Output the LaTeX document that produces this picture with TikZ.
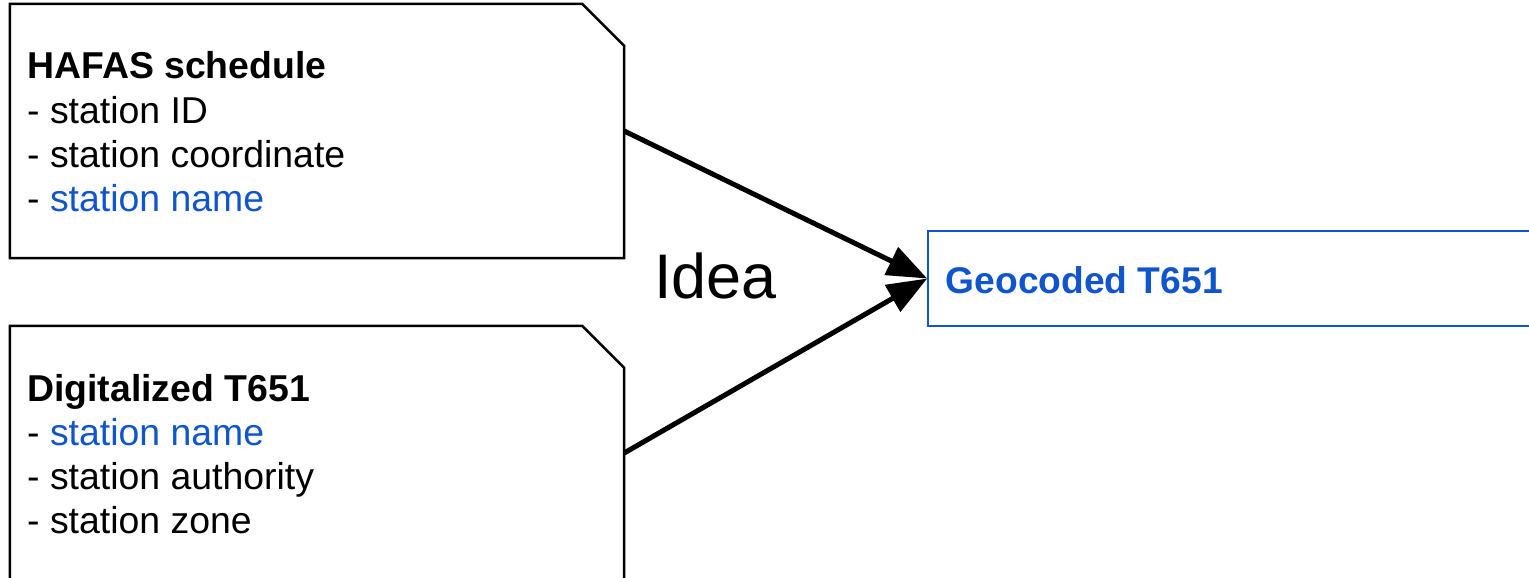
\documentclass[tikz,border=0pt]{standalone}
\usepackage{fontspec}
\setmainfont{Liberation Sans}
\usetikzlibrary{arrows.meta}
\definecolor{gblue}{HTML}{1155CC}
\begin{document}
\begin{tikzpicture}[x=1pt,y=-1pt,
  card/.style={draw=none,rectangle,minimum width=614pt,minimum height=254pt,inner sep=0pt},
  cardline/.style={draw=black,line width=2.5pt,line join=miter},
  txt/.style={anchor=base west,inner sep=0pt,font=\fontsize{37.4pt}{44pt}\selectfont},
  conn/.style={line width=5pt,-{Triangle[length=40pt,width=30pt]}},
]
\useasboundingbox (0,0) rectangle (1529,578);
\clip (0,0) rectangle (1529,578);
% boxes
\node[card] (hafas) at (317,131) {};
\node[card] (digi) at (317,453) {};
\node[draw=gblue,line width=1.6pt,rectangle,minimum width=602pt,minimum height=95pt,inner sep=0pt] (geo) at (1229,278.5) {};
\foreach \b in {hafas,digi}{
  \draw[cardline] (\b.south west) -- (\b.north west) -- ([xshift=-42pt]\b.north east)
    -- ([yshift=-42pt]\b.north east) -- (\b.south east) -- cycle;
}
% texts box 1
\node[txt] (h0) at (27,78.5) {\bfseries HAFAS schedule};
\node[txt] (h1) at (27,123) {- station ID};
\node[txt] (h2) at (27,167.5) {- station coordinate};
\node[txt] (h3) at (27,211.5) {- \textcolor{gblue}{station name}};
% texts box 2
\node[txt] (d0) at (27,401.5) {\bfseries Digitalized T651};
\node[txt] (d1) at (27,445.5) {- \textcolor{gblue}{station name}};
\node[txt] (d2) at (27,489.5) {- station authority};
\node[txt] (d3) at (27,533.5) {- station zone};
% box 3 text
\node[txt,text=gblue,font=\fontsize{37.2pt}{44pt}\selectfont] (g0) at (945.5,293) {\bfseries Geocoded T651};
% idea
\node[anchor=base west,inner sep=0pt,font=\fontsize{63pt}{66pt}\selectfont] (idea) at (654,298) {Idea};
% connectors
\draw[conn] (hafas.east) -- (geo.west);
\draw[conn] (digi.east) -- (geo.west);
\end{tikzpicture}
\end{document}
